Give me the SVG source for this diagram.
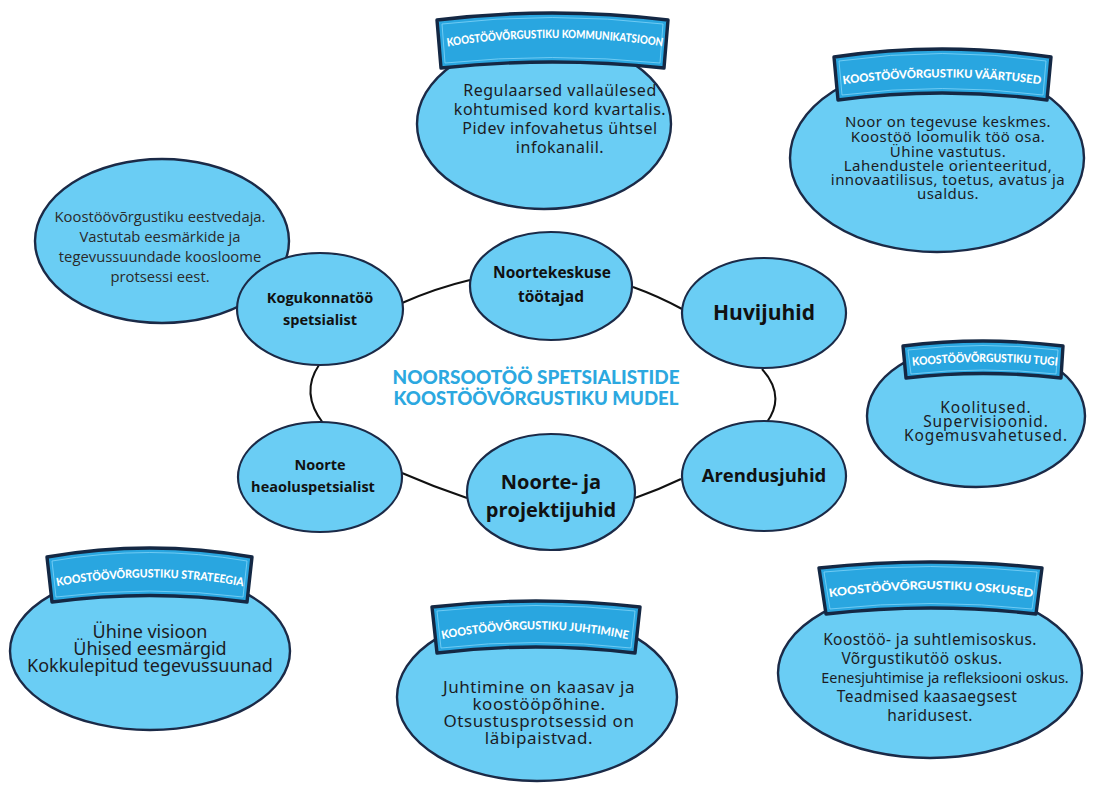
<svg xmlns="http://www.w3.org/2000/svg" width="1094" height="786" viewBox="0 0 1094 786">
<defs>
<style>
.big{fill:#6ACDF4;stroke:#1B2A47;stroke-width:2.4}
.node{fill:#6ACDF4;stroke:#1B2A47;stroke-width:2.2}
.ban{fill:#29A6E0;stroke:#142844;stroke-width:3.4;stroke-linejoin:round}
.banin{fill:none;stroke:#7FD3F7;stroke-width:1;opacity:0.8}
.bt{font-family:Lato,"Open Sans",sans-serif;font-weight:900;fill:#FFFFFF;font-size:11.5px}
.body{font-family:"Noto Sans","Open Sans",sans-serif;fill:#1C1C24;text-anchor:middle}
.lbl{font-family:"Open Sans","Noto Sans",sans-serif;font-weight:700;fill:#111111;text-anchor:middle}
.title{font-family:Lato,"Open Sans",sans-serif;font-weight:900;fill:#2CA8E0;font-size:19.5px;text-anchor:middle}
.conn{fill:none;stroke:#111111;stroke-width:2}
</style>
<path id="tp1" d="M 444,47 Q 555,29 666,47"/>
<path id="tp2" d="M 842,84.5 Q 942,70.5 1042,84.5"/>
<path id="tp3" d="M 911,366 Q 985,358 1059,366"/>
<path id="tp4" d="M 56,586.5 Q 150,568.5 244,586.5"/>
<path id="tp5" d="M 441,639.5 Q 535,619.5 629,639.5"/>
<path id="tp6" d="M 828,597.5 Q 931,581.5 1034,597.5"/>
</defs>
<rect width="1094" height="786" fill="#FFFFFF"/>

<g id="connectors">
<path class="conn" d="M 402,303 Q 436,288 470,280"/>
<path class="conn" d="M 633,287 Q 658,296 682,309"/>
<path class="conn" d="M 762,369 Q 786,396 767,422"/>
<path class="conn" d="M 681,479 Q 658,490 635,498"/>
<path class="conn" d="M 467,498 Q 434,487 402,473"/>
<path class="conn" d="M 323,423 Q 300,393 319,365"/>
</g>

<g id="kommunikatsioon">
<ellipse class="big" cx="544" cy="124" rx="127" ry="85"/>
<path class="ban" d="M 437,20 Q 552,6 668,20 L 664,68 Q 552,56 441,68 Z"/>
<path class="banin" d="M 442,24 Q 552,11 663,24 L 660,63 Q 552,52 445,63 Z"/>
<text class="bt"><textPath href="#tp1" startOffset="50%" text-anchor="middle" textLength="216" lengthAdjust="spacingAndGlyphs">KOOSTÖÖVÕRGUSTIKU KOMMUNIKATSIOON</textPath></text>
<text class="body" font-size="16" letter-spacing="0.5"><tspan x="560" y="96">Regulaarsed vallaülesed</tspan><tspan x="560" y="115">kohtumised kord kvartalis.</tspan><tspan x="560" y="134">Pidev infovahetus ühtsel</tspan><tspan x="560" y="153">infokanalil.</tspan></text>
</g>

<g id="vaartused">
<ellipse class="big" cx="937" cy="158" rx="147" ry="94"/>
<path class="ban" d="M 834,57 Q 942,41 1051,57 L 1047,100 Q 942,86 838,100 Z"/>
<path class="banin" d="M 839,61 Q 942,46 1046,61 L 1043,95 Q 942,82 842,95 Z"/>
<text class="bt" font-size="12.5"><textPath href="#tp2" startOffset="50%" text-anchor="middle" textLength="198" lengthAdjust="spacingAndGlyphs">KOOSTÖÖVÕRGUSTIKU VÄÄRTUSED</textPath></text>
<text class="body" font-size="15" letter-spacing="0.45"><tspan x="948" y="127">Noor on tegevuse keskmes.</tspan><tspan x="948" y="142">Koostöö loomulik töö osa.</tspan><tspan x="948" y="157">Ühine vastutus.</tspan><tspan x="948" y="171">Lahendustele orienteeritud,</tspan><tspan x="948" y="185">innovaatilisus, toetus, avatus ja</tspan><tspan x="948" y="199">usaldus.</tspan></text>
</g>

<g id="eestvedaja">
<ellipse class="big" cx="162" cy="241" rx="127" ry="82"/>
<text class="body" font-size="14.8" style="font-family:'Open Sans','Noto Sans',sans-serif;fill:#2A2A2A"><tspan x="160" y="222">Koostöövõrgustiku eestvedaja.</tspan><tspan x="160" y="242">Vastutab eesmärkide ja</tspan><tspan x="160" y="262">tegevussuundade koosloome</tspan><tspan x="160" y="282">protsessi eest.</tspan></text>
</g>

<g id="tugi">
<ellipse class="big" cx="976" cy="416" rx="109" ry="71"/>
<path class="ban" d="M 903,346 Q 983,336 1063,346 L 1061,378 Q 983,369 906,378 Z"/>
<path class="banin" d="M 908,350 Q 983,341 1058,350 L 1056,374 Q 983,366 911,374 Z"/>
<text class="bt" font-size="10.5"><textPath href="#tp3" startOffset="50%" text-anchor="middle" textLength="145" lengthAdjust="spacingAndGlyphs">KOOSTÖÖVÕRGUSTIKU TUGI</textPath></text>
<text class="body" font-size="15.5" letter-spacing="0.9"><tspan x="986" y="413">Koolitused.</tspan><tspan x="986" y="427">Supervisioonid.</tspan><tspan x="986" y="441">Kogemusvahetused.</tspan></text>
</g>

<g id="strateegia">
<ellipse class="big" cx="150" cy="651" rx="140" ry="79"/>
<path class="ban" d="M 47,557 Q 150,539 252,557 L 247,602 Q 150,589 52,602 Z"/>
<path class="banin" d="M 52,561 Q 150,544 247,561 L 243,597 Q 150,585 56,597 Z"/>
<text class="bt"><textPath href="#tp4" startOffset="50%" text-anchor="middle" textLength="187" lengthAdjust="spacingAndGlyphs">KOOSTÖÖVÕRGUSTIKU STRATEEGIA</textPath></text>
<text class="body" font-size="18"><tspan x="150" y="638">Ühine visioon</tspan><tspan x="150" y="655">Ühised eesmärgid</tspan><tspan x="150" y="672">Kokkulepitud tegevussuunad</tspan></text>
</g>

<g id="juhtimine">
<ellipse class="big" cx="537" cy="697" rx="140" ry="84"/>
<path class="ban" d="M 432,607 Q 536,595 640,607 L 635,653 Q 536,641 437,653 Z"/>
<path class="banin" d="M 437,611 Q 536,600 635,611 L 631,648 Q 536,637 441,648 Z"/>
<text class="bt"><textPath href="#tp5" startOffset="50%" text-anchor="middle" textLength="187" lengthAdjust="spacingAndGlyphs">KOOSTÖÖVÕRGUSTIKU JUHTIMINE</textPath></text>
<text class="body" font-size="17" letter-spacing="0.6"><tspan x="539" y="693">Juhtimine on kaasav ja</tspan><tspan x="539" y="710">koostööpõhine.</tspan><tspan x="539" y="727">Otsustusprotsessid on</tspan><tspan x="539" y="744">läbipaistvad.</tspan></text>
</g>

<g id="oskused">
<ellipse class="big" cx="930" cy="673" rx="152" ry="85"/>
<path class="ban" d="M 819,568 Q 931,556 1042,568 L 1036,614 Q 931,602 826,614 Z"/>
<path class="banin" d="M 824,572 Q 931,561 1037,572 L 1032,609 Q 931,598 830,609 Z"/>
<text class="bt" font-size="12.5"><textPath href="#tp6" startOffset="50%" text-anchor="middle" textLength="204" lengthAdjust="spacingAndGlyphs">KOOSTÖÖVÕRGUSTIKU OSKUSED</textPath></text>
<text class="body" font-size="15.5" letter-spacing="0.4"><tspan x="930" y="645">Koostöö- ja suhtlemisoskus.</tspan><tspan x="922" y="664">Võrgustikutöö oskus.</tspan><tspan x="945" y="683" font-size="14.4" letter-spacing="0">Eenesjuhtimise ja refleksiooni oskus.</tspan><tspan x="927" y="702">Teadmised kaasaegsest</tspan><tspan x="930" y="721">haridusest.</tspan></text>
</g>

<g id="title">
<text class="title"><tspan x="536" y="384" textLength="287" lengthAdjust="spacingAndGlyphs">NOORSOOTÖÖ SPETSIALISTIDE</tspan><tspan x="536" y="405" textLength="285" lengthAdjust="spacingAndGlyphs">KOOSTÖÖVÕRGUSTIKU MUDEL</tspan></text>
</g>

<g id="kogukonnatoo">
<ellipse class="node" cx="320" cy="309" rx="83" ry="56"/>
<text class="lbl" font-size="14.5"><tspan x="320" y="303">Kogukonnatöö</tspan><tspan x="320" y="325">spetsialist</tspan></text>
</g>

<g id="noortekeskuse">
<ellipse class="node" cx="551" cy="286" rx="81" ry="54"/>
<text class="lbl" font-size="15.5"><tspan x="552" y="278">Noortekeskuse</tspan><tspan x="551" y="302">töötajad</tspan></text>
</g>

<g id="huvijuhid">
<ellipse class="node" cx="764" cy="313" rx="82" ry="55"/>
<text class="lbl" font-size="21" x="764" y="320">Huvijuhid</text>
</g>

<g id="heaolu">
<ellipse class="node" cx="320" cy="477" rx="82" ry="55"/>
<text class="lbl" font-size="14.5"><tspan x="320" y="470">Noorte</tspan><tspan x="313" y="492">heaoluspetsialist</tspan></text>
</g>

<g id="projektijuhid">
<ellipse class="node" cx="551" cy="492" rx="84" ry="58"/>
<text class="lbl" font-size="20"><tspan x="551" y="489">Noorte- ja</tspan><tspan x="551" y="517">projektijuhid</tspan></text>
</g>

<g id="arendusjuhid">
<ellipse class="node" cx="764" cy="476" rx="82" ry="55"/>
<text class="lbl" font-size="18.5" x="764" y="482">Arendusjuhid</text>
</g>
</svg>
